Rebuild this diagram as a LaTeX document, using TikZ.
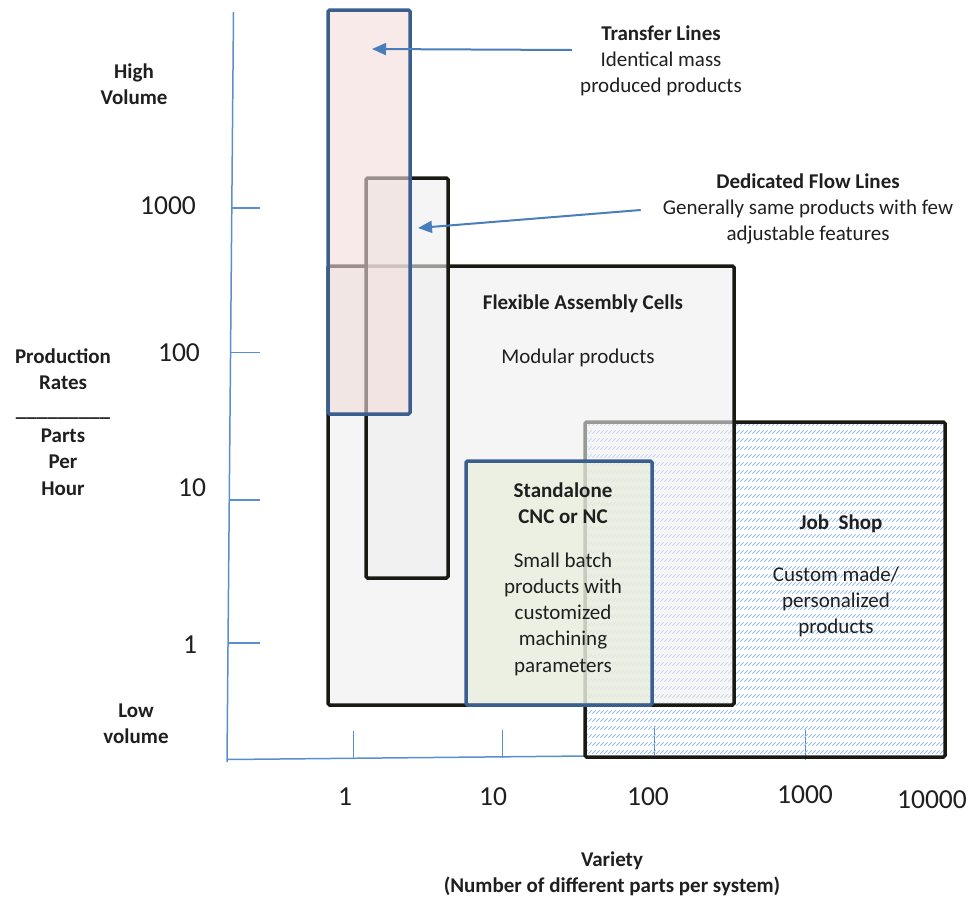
\documentclass[tikz,border=0pt]{standalone}
\usepackage{fontspec}
\setmainfont{Carlito}
\usetikzlibrary{arrows.meta,patterns}

\definecolor{ink}{HTML}{1F1F1F}
\definecolor{boxblack}{HTML}{1A1A14}
\definecolor{boxblue}{HTML}{3A5F8E}
\definecolor{axisblue}{HTML}{5A8FCF}
\definecolor{arrowblue}{HTML}{4A7EBB}
\definecolor{cellgray}{HTML}{EEEEEE}
\definecolor{tlpink}{HTML}{F2DCDB}
\definecolor{sagreen}{HTML}{E6EDD8}
\definecolor{hatchblue}{HTML}{9ABDF0}

% rows of short upward slashes for the job-shop area
\pgfdeclarepatternformonly{slashrows}{\pgfqpoint{-0.5pt}{-0.5pt}}{\pgfqpoint{4.5pt}{8.5pt}}{\pgfqpoint{4pt}{8pt}}{%
  \pgfsetlinewidth{0.8pt}%
  \pgfpathmoveto{\pgfqpoint{0.3pt}{0.3pt}}%
  \pgfpathlineto{\pgfqpoint{3.7pt}{3.7pt}}%
  \pgfusepath{stroke}}

\begin{document}
\begin{tikzpicture}[x=1pt,y=-1pt,
  zone/.style={line width=3.5pt, rounded corners=1.5pt, fill opacity=0.6,
    anchor=north west, inner sep=0pt, outer sep=0pt},
  blackzone/.style={zone, draw=boxblack},
  bluezone/.style={zone, draw=boxblue},
  body/.style={font=\fontsize{21}{26.3}\selectfont, text=ink, align=center, inner sep=0pt},
  title/.style={font=\fontsize{21}{26.3}\selectfont\bfseries, text=ink, align=center, inner sep=0pt},
  num/.style={font=\fontsize{27.5}{32}\selectfont, text=ink, inner sep=0pt},
  axis/.style={draw=axisblue, line width=1.5pt},
  pointer/.style={draw=arrowblue, line width=2pt, -{Triangle[length=14pt,width=12pt]}}]

\useasboundingbox (0,0) rectangle (972,898);

% axes and tick marks
\draw[axis] (233.5,12) -- (227,762);
\draw[axis] (227,759.5) -- (586,756);
\foreach \yy/\xx in {208/231.2, 352.5/230, 500/228.7, 643/228.2}
  \draw[axis] (\xx,\yy) -- (260,\yy);
\draw[axis] (353.5,731) -- (353.5,759);
\draw[axis] (502.5,730) -- (502.5,758);
\draw[axis] (654.3,726) -- (654.3,755);
\draw[axis] (805.7,730) -- (805.7,760);

% production regions, lowest layer first
\node[blackzone, pattern=slashrows, pattern color=hatchblue, fill opacity=1,
  minimum width=360pt, minimum height=335pt] (js) at (585,422) {};
\node[blackzone, fill=cellgray, minimum width=406pt, minimum height=439pt] (fac) at (328,266) {};
\node[blackzone, fill=cellgray, minimum width=82pt, minimum height=400pt] (dfl) at (366,178) {};
\node[bluezone, fill=tlpink, minimum width=82pt, minimum height=404pt] (tl) at (328,10) {};
\node[bluezone, fill=sagreen, minimum width=186pt, minimum height=244pt] (sa) at (466,461) {};

% region texts
\node[title] (factitle) at (583,303.5) {Flexible Assembly Cells};
\node[body]  (facbody)  at (578,357.5) {Modular products};
\node[title] (satitle)  at (563,503.5) {Standalone\\CNC or NC};
\node[body]  (sabody)   at (563,614) {Small batch\\products with\\customized\\machining\\parameters};
\node[title] (jstitle)  at (841,523.5) {Job\ \ Shop};
\node[body]  (jsbody)   at (836,602) {Custom made/\\personalized\\products};

% call-outs
\node[body] (tltext) at (661,61) {\textbf{Transfer Lines}\\Identical mass\\produced products};
\node[body] (dfltext) at (808,209) {\textbf{Dedicated Flow Lines}\\Generally same products with few\\adjustable features};
\coordinate (tltip) at (372,49);
\coordinate (dfltip) at (418,228);
\draw[pointer] ([xshift=-8pt,yshift=11pt]tltext.west) -- (tltip);
\draw[pointer] ([xshift=-22pt,yshift=-1pt]dfltext.west) -- (dfltip);

% axis labels
\node[title] (highvol) at (134,84) {High\\Volume};
\node[title] (ratelabel) at (63,422) {Production\\Rates\\\_\_\_\_\_\_\_\_\_\\Parts\\Per\\Hour};
\node[title] (lowvol) at (136,724) {Low\\volume};
\node[title] (varietylbl) at (612,874) {Variety\\(Number of different parts per system)};

\node[num] (y1000) at (168,206) {1000};
\node[num] (y100)  at (179,352.5) {100};
\node[num] (y10)   at (192,487.5) {10};
\node[num] (y1)    at (190,645) {1};
\node[num] (x1)    at (345,797) {1};
\node[num] (x10)   at (493,797) {10};
\node[num] (x100)  at (648,797) {100};
\node[num] (x1000) at (805,795) {1000};
\node[num] (x10000) at (932,800) {10000};
\end{tikzpicture}
\end{document}
